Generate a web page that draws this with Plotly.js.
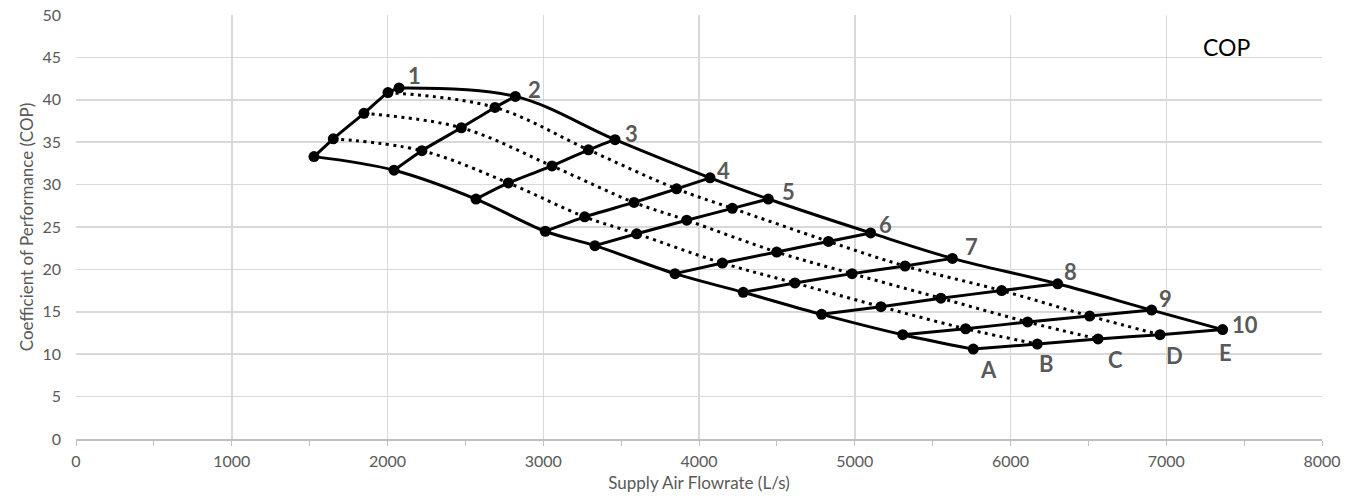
<!DOCTYPE html>
<html>
<head>
<meta charset="utf-8">
<script src="https://cdn.plot.ly/plotly-3.0.1.min.js"></script>
<style>html,body{margin:0;padding:0;background:#fff;}#chart{width:1359px;height:502px;}</style>
</head>
<body>
<div id="chart"></div>
<script>
// Level curves A–E (supply air flowrate in L/s, COP), one value per cross line 1–10
const flowA = [1528, 2042, 2568, 3013, 3332, 3846, 4284, 4787, 5308, 5761];
const copA  = [33.3, 31.7, 28.3, 24.5, 22.8, 19.5, 17.3, 14.7, 12.3, 10.6];
const flowB = [1652, 2221, 2776, 3266, 3600, 4150, 4616, 5168, 5712, 6172];
const copB  = [35.4, 34.0, 30.2, 26.2, 24.2, 20.75, 18.4, 15.6, 13.0, 11.2];
const flowC = [1849, 2474, 3056, 3583, 3921, 4499, 4983, 5553, 6110, 6562];
const copC  = [38.4, 36.7, 32.2, 27.9, 25.8, 22.05, 19.5, 16.6, 13.8, 11.8];
const flowD = [2003, 2690, 3290, 3856, 4214, 4831, 5323, 5943, 6508, 6960];
const copD  = [40.85, 39.1, 34.1, 29.5, 27.2, 23.3, 20.4, 17.5, 14.5, 12.3];
const flowE = [2074, 2821, 3461, 4071, 4445, 5102, 5627, 6303, 6906, 7362];
const copE  = [41.4, 40.4, 35.3, 30.8, 28.3, 24.3, 21.3, 18.3, 15.2, 12.9];

const numberLabels = ['1','2','3','4','5','6','7','8','9','10'];
const letterLabels = ['A','B','C','D','E'];
const xTickVals = [0,1000,2000,3000,4000,5000,6000,7000,8000];
const yTickVals = [0,5,10,15,20,25,30,35,40,45,50];

const levelFlows = [flowA, flowB, flowC, flowD, flowE];
const levelCops  = [copA, copB, copC, copD, copE];

const traces = [];
// Level curves: A and E solid, B–D dotted
levelFlows.forEach((fx, k) => {
  const solid = (k === 0 || k === 4);
  traces.push({
    x: fx, y: levelCops[k], type: 'scatter', mode: 'lines',
    line: {color: '#000', width: 3, dash: solid ? 'solid' : '3px,4.5px', shape: 'spline', smoothing: 1},
    hoverinfo: 'skip', showlegend: false
  });
});
// Cross lines 1–10 with markers
for (let i = 0; i < numberLabels.length; i++) {
  traces.push({
    x: levelFlows.map(a => a[i]), y: levelCops.map(a => a[i]),
    type: 'scatter', mode: 'lines+markers',
    line: {color: '#000', width: 3, shape: 'spline', smoothing: 0.6},
    marker: {color: '#000', size: 11},
    showlegend: false
  });
}

const labelFont = {family: 'Lato, "Open Sans", sans-serif', size: 22, color: '#595959', weight: 'bold'};
const numShift = [[15,12],[19,7],[16,6],[13,7],[20,8],[15,8],[19,12],[13,12],[14,12],[22,5]];
const letShift = [[15,-20],[9,-19],[17,-21],[14,-21],[3,-23]];
const annotations = [];
numberLabels.forEach((t, i) => {
  annotations.push({x: flowE[i], y: copE[i], text: '<b>' + t + '</b>', showarrow: false,
    xshift: numShift[i][0], yshift: numShift[i][1], font: labelFont});
});
letterLabels.forEach((t, k) => {
  annotations.push({x: levelFlows[k][9], y: levelCops[k][9], text: '<b>' + t + '</b>', showarrow: false,
    xshift: letShift[k][0], yshift: letShift[k][1], font: labelFont});
});
annotations.push({x: 7390, y: 46.2, xref: 'x', yref: 'y', text: 'COP', showarrow: false,
  font: {family: 'Lato, "Open Sans", sans-serif', size: 23, color: '#000'}});

const tickFont = {family: 'Lato, "Open Sans", sans-serif', size: 16, color: '#595959'};
const titleFont = {family: 'Lato, "Open Sans", sans-serif', size: 17, color: '#595959'};
const layout = {
  width: 1359, height: 502,
  margin: {l: 76, r: 37, t: 15, b: 63},
  paper_bgcolor: '#fff', plot_bgcolor: '#fff',
  font: tickFont,
  xaxis: {
    range: [0, 8000], tickvals: xTickVals, ticktext: xTickVals.map(String),
    showgrid: true, gridcolor: '#d9d9d9', gridwidth: 1.5,
    zeroline: false, showline: true, linecolor: '#bfbfbf', linewidth: 1.5,
    ticks: 'outside', ticklen: 5, tickcolor: '#bfbfbf',
    minor: {dtick: 500, ticks: 'outside', ticklen: 5, tickcolor: '#bfbfbf', showgrid: false},
    tickfont: tickFont, ticklabelstandoff: 2,
    title: {text: 'Supply Air Flowrate (L/s)', font: titleFont, standoff: 8}
  },
  yaxis: {
    range: [0, 50], tickvals: yTickVals, ticktext: yTickVals.map(String),
    showgrid: true, gridcolor: '#d9d9d9', gridwidth: 1.5,
    zeroline: false, showline: false, ticks: '', ticklen: 0,
    tickfont: tickFont, ticklabelstandoff: 14,
    title: {text: 'Coefficient of Performance (COP)', font: titleFont, standoff: 4}
  },
  annotations: annotations,
  showlegend: false
};
Plotly.newPlot('chart', traces, layout, {displayModeBar: false, staticPlot: true});
</script>
</body>
</html>
